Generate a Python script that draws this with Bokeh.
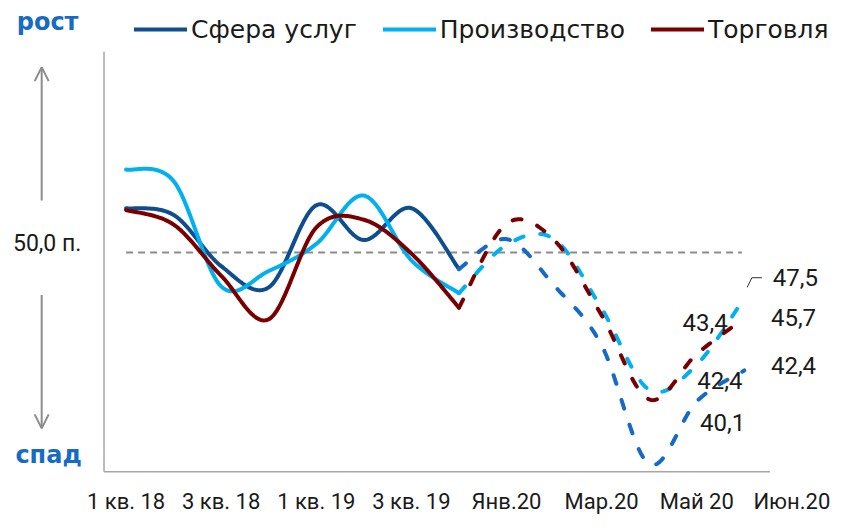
import numpy as np
from bokeh.plotting import figure
from bokeh.models import (Range1d, FixedTicker, Legend, LegendItem, Label,
                          LabelSet, Arrow, OpenHead, ColumnDataSource)
from bokeh.core.properties import value
from bokeh.embed import file_html
from bokeh.resources import INLINE

# ---------------- data ----------------
CATEGORIES = ["1 кв. 18", "2 кв. 18", "3 кв. 18", "4 кв. 18",
              "1 кв. 19", "2 кв. 19", "3 кв. 19", "4 кв. 19",
              "Янв.20", "Фев.20", "Мар.20", "Апр.20", "Май 20", "Июн.20"]
TICK_LABELS = ["1 кв. 18", "3 кв. 18", "1 кв. 19", "3 кв. 19",
               "Янв.20", "Мар.20", "Май 20", "Июн.20"]
TICK_POS = [0, 2, 4, 6, 8, 10, 12, 14]
N_QUARTERS = 8

services_q = [52.3, 51.95, 49.3, 48.2, 52.45, 50.65, 52.3, 49.15]
services_m = [50.7, 48.3, 45.2, 39.05, 42.3, 43.9]
production_q = [54.3, 53.7, 48.25, 49.05, 50.45, 52.95, 49.6, 47.9]
production_m = [50.4, 50.7, 47.1, 42.9, 44.2, 47.65]
trade_q = [52.2, 51.45, 48.8, 46.55, 51.3, 51.7, 49.95, 47.15]
trade_m = [51.5, 50.65, 46.75, 42.4, 44.75, 46.6]

SERIES_NAMES = ["Сфера услуг", "Производство", "Торговля"]
THRESHOLD = 50.0
THRESHOLD_TEXT = "50,0 п."
UP_TEXT = "рост"
DOWN_TEXT = "спад"
VALUE_TEXTS = ["47,5", "45,7", "42,4", "43,4", "42,4", "40,1"]

# ---------------- helpers ----------------
def smooth(xs, ys, n=30):
    P = np.column_stack([xs, ys]).astype(float)
    out = []
    for i in range(len(P) - 1):
        p0 = P[i - 1] if i > 0 else P[i]
        p1, p2 = P[i], P[i + 1]
        p3 = P[i + 2] if i + 2 < len(P) else P[i + 1]
        c1 = p1 + (p2 - p0) / 6.0
        c2 = p2 - (p3 - p1) / 6.0
        t = np.linspace(0, 1, n)[:, None]
        seg = ((1 - t) ** 3) * p1 + 3 * ((1 - t) ** 2) * t * c1 + 3 * (1 - t) * t ** 2 * c2 + t ** 3 * p2
        out.append(seg if i == 0 else seg[1:])
    arr = np.vstack(out)
    return arr[:, 0], arr[:, 1]

x_all = np.arange(len(CATEGORIES))
xq = x_all[:N_QUARTERS]
xm = x_all[N_QUARTERS - 1:]

C_SERV = "#0E4E8E"
C_SERV_D = "#1569C7"
C_PROD = "#00B0F0"
C_TRADE = "#7A0000"
GRAY = "#8C8C8C"
AX = "#A6A6A6"
BLUE_TXT = "#166CC4"
TXT = "#1a1a1a"

# plot-area extent (axis lines) in data units
X_LEFT, X_RIGHT = -0.464, 13.54
Y_BOTTOM, Y_TOP = 38.65, 60.4

p = figure(width=838, height=516, output_backend="svg", toolbar_location=None,
           x_range=Range1d(-2.641, 14.981), y_range=Range1d(38.41, 63.05),
           min_border_left=0, min_border_right=0, min_border_top=0,
           min_border_bottom=38)
p.outline_line_color = None
p.grid.visible = False
p.background_fill_color = "white"
p.yaxis.visible = False

# axis lines
p.segment(x0=[X_LEFT, X_LEFT], y0=[Y_BOTTOM, Y_BOTTOM], x1=[X_LEFT, X_RIGHT],
          y1=[Y_TOP, Y_BOTTOM], line_color=AX, line_width=1.5)

# threshold dashed line
p.line([x_all[0], x_all[-1] - 0.05], [THRESHOLD, THRESHOLD], line_color=GRAY,
       line_width=2, line_dash="7 5")

renderers = []
for q, m, c, cd in [(services_q, services_m, C_SERV, C_SERV_D),
                    (production_q, production_m, C_PROD, C_PROD),
                    (trade_q, trade_m, C_TRADE, C_TRADE)]:
    sx, sy = smooth(xq, q)
    r = p.line(sx, sy, line_color=c, line_width=4, line_join="round", line_cap="round")
    dx, dy = smooth(xm, [q[-1]] + m)
    p.line(dx, dy, line_color=cd, line_width=4, line_dash="9 17", line_cap="round",
           line_join="round")
    renderers.append(r)

# x axis (labels only; its line is drawn above)
p.xaxis.ticker = FixedTicker(ticks=TICK_POS)
p.xaxis.major_label_overrides = {pos: lab for pos, lab in zip(TICK_POS, TICK_LABELS)}
p.xaxis.major_label_text_font = "Roboto"
p.xaxis.major_label_text_font_size = "22px"
p.xaxis.major_label_text_color = TXT
p.xaxis.major_label_standoff = 12
p.xaxis.major_tick_line_color = None
p.xaxis.minor_tick_line_color = None
p.xaxis.major_tick_out = 0
p.xaxis.major_tick_in = 0
p.xaxis.axis_line_color = None

# legend
legend = Legend(items=[LegendItem(label=n, renderers=[r]) for n, r in zip(SERIES_NAMES, renderers)],
                orientation="horizontal", location=(134, 432),
                label_text_font="DejaVu Sans", label_text_font_size="25px",
                label_text_color=TXT, glyph_width=53, glyph_height=24,
                label_height=30, label_standoff=4, spacing=26, padding=0, margin=0,
                border_line_color=None, background_fill_alpha=0)
p.add_layout(legend, "center")

# left annotations
p.add_layout(Label(x=-1.65, y=61.95, text=UP_TEXT, text_font="DejaVu Sans",
                   text_font_style="bold", text_font_size="24px", text_color=BLUE_TXT,
                   text_align="center", text_baseline="middle"))
p.add_layout(Label(x=-1.63, y=39.5, text=DOWN_TEXT, text_font="DejaVu Sans",
                   text_font_style="bold", text_font_size="24px", text_color=BLUE_TXT,
                   text_align="center", text_baseline="middle"))
p.add_layout(Label(x=-1.66, y=50.45, text=THRESHOLD_TEXT, text_font="Roboto",
                   text_font_size="23px", text_color=TXT,
                   text_align="center", text_baseline="middle"))
p.add_layout(Arrow(end=OpenHead(size=14, line_color=GRAY, line_width=2),
                   x_start=-1.775, y_start=52.7, x_end=-1.775, y_end=59.6,
                   line_color=GRAY, line_width=2))
p.add_layout(Arrow(end=OpenHead(size=14, line_color=GRAY, line_width=2),
                   x_start=-1.775, y_start=47.8, x_end=-1.775, y_end=40.9,
                   line_color=GRAY, line_width=2))

# value labels
lab_src = ColumnDataSource(dict(x=[13.6, 13.56, 13.56, 11.7, 12.01, 12.07],
                                y=[48.7, 46.65, 44.15, 46.4, 43.4, 41.2],
                                t=VALUE_TEXTS))
p.add_layout(LabelSet(x="x", y="y", text="t", source=lab_src, text_font=value("Roboto"),
                      text_font_size=value("24px"), text_color=TXT,
                      text_baseline="middle", text_align="left"))
# leader line for the top label
p.line([13.06, 13.16, 13.37], [48.2, 48.7, 48.7], line_color="#333333", line_width=1)

open("out.html", "w").write(file_html(p, INLINE))
